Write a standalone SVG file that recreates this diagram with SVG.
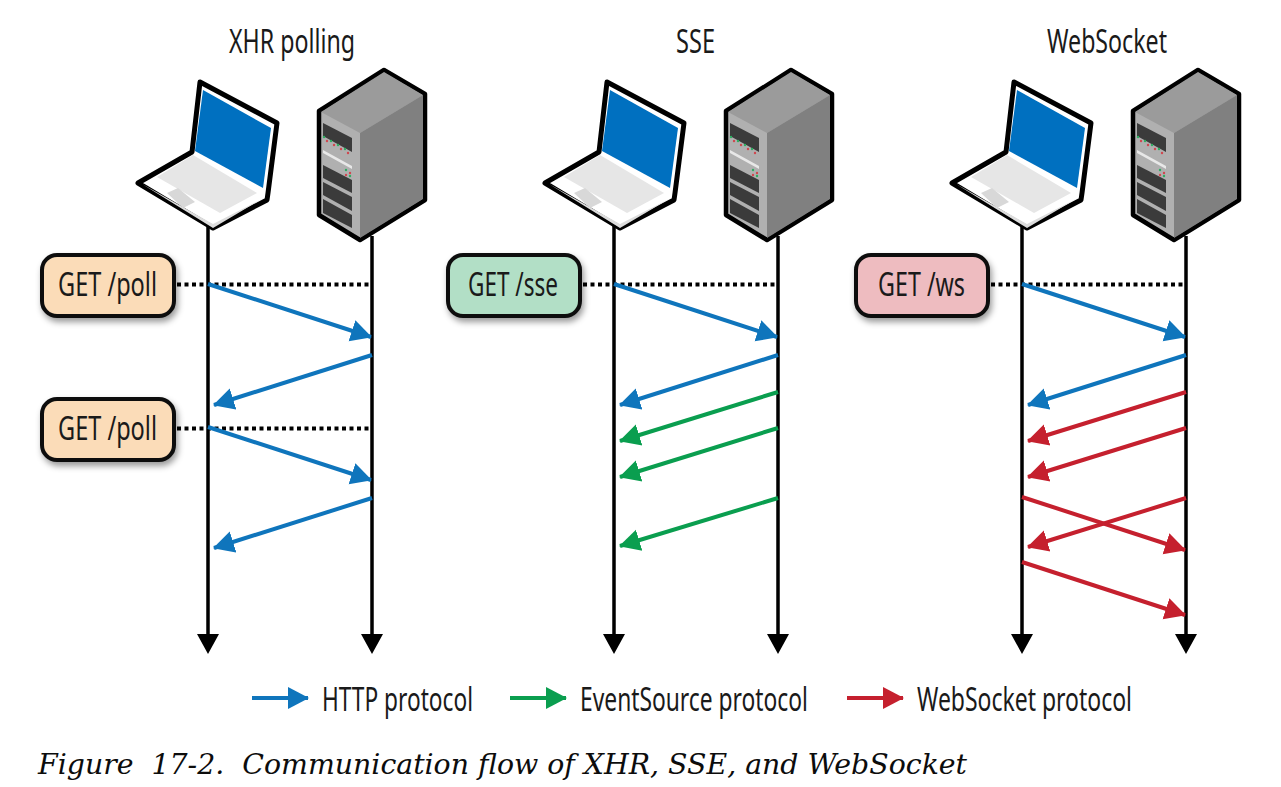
<svg xmlns="http://www.w3.org/2000/svg" width="1281" height="787" viewBox="0 0 1281 787">
<style>
.lbl{font-family:"Noto Sans","Liberation Sans",sans-serif;font-size:32px;fill:#1a1a1a}
.cap{font-family:"DejaVu Serif",serif;font-style:italic;font-size:28px;fill:#0c0c0c}
.box{stroke:#111;stroke-width:4;filter:url(#sh)}
.life{stroke:#000;stroke-width:3.5;fill:none}
.dot{stroke:#000;stroke-width:4;stroke-dasharray:4 3.500;fill:none}
.b{stroke:#0f75bc;stroke-width:4;fill:none}
.g{stroke:#0a9e4f;stroke-width:4;fill:none}
.r{stroke:#c5202e;stroke-width:4;fill:none}
.pnl{fill:#3a3a3a}
.icon{filter:url(#soft)}
</style>
<defs>
<filter id="soft" x="-5%" y="-5%" width="110%" height="110%"><feGaussianBlur stdDeviation="0.5"/></filter>
<filter id="sh" x="-20%" y="-20%" width="140%" height="150%"><feDropShadow dx="2" dy="4" stdDeviation="3" flood-color="#000" flood-opacity="0.4"/></filter>
<marker id="mb" markerUnits="userSpaceOnUse" markerWidth="22" markerHeight="24" refX="20" refY="12" orient="auto"><path d="M0 1L21 12L0 23Z" fill="#0f75bc"/></marker>
<marker id="mg" markerUnits="userSpaceOnUse" markerWidth="22" markerHeight="24" refX="20" refY="12" orient="auto"><path d="M0 1L21 12L0 23Z" fill="#0a9e4f"/></marker>
<marker id="mr" markerUnits="userSpaceOnUse" markerWidth="22" markerHeight="24" refX="20" refY="12" orient="auto"><path d="M0 1L21 12L0 23Z" fill="#c5202e"/></marker>
<g id="laptop">
<path d="M200 82L277 123L268 193L267 200L213 228L138 183L192 152Z" fill="#fff" stroke="#000" stroke-width="5" stroke-linejoin="round"/>
<path d="M203 90L271 128L263 188L195 151Z" fill="#0070c0"/>
<path d="M157 177L193 155L257 193L220 213Z" fill="#e6e6e6"/>
<path d="M167 193L178 188L195 202L183 208Z" fill="#d8d8d8"/>
<path d="M142 184L213 224L262 199L213 228Z" fill="#ddd"/>
</g>
<g id="server">
<path d="M384 70L425 94V200L360 240L319 215V111Z" fill="#b0b0b0" stroke="#000" stroke-width="4.5" stroke-linejoin="round"/>
<path d="M384 72L423 95L360 133L321 112Z" fill="#9b9b9b"/>
<path d="M423 95V199L360 238V133Z" fill="#808080"/>
<path class="pnl" d="M323 123L352 138V152L323 136Z"/>
<path d="M323 150L352 166V169L323 153Z" fill="#e8e8e8"/>
<path class="pnl" d="M323 165L352 180V193L323 178Z"/>
<path class="pnl" d="M323 182L352 197V211L323 195Z"/>
<path class="pnl" d="M323 199L352 215V228L323 213Z"/>
<g fill="#2fae62"><circle cx="324" cy="137" r="1.2"/><circle cx="331" cy="141" r="1.2"/><circle cx="338" cy="145" r="1.2"/><circle cx="345" cy="149" r="1.2"/><circle cx="346" cy="170" r="1.2"/><circle cx="350" cy="176" r="1.2"/></g>
<g fill="#d0474f"><circle cx="327" cy="141" r="1.2"/><circle cx="334" cy="145" r="1.2"/><circle cx="341" cy="149" r="1.2"/><circle cx="348" cy="153" r="1.2"/><circle cx="350" cy="173" r="1.2"/><circle cx="346" cy="175" r="1.2"/></g>
</g>
</defs>
<rect width="1281" height="787" fill="#fff"/>
<text class="lbl" x="229" y="53" textLength="126" lengthAdjust="spacingAndGlyphs">XHR polling</text>
<text class="lbl" x="676" y="53" textLength="39" lengthAdjust="spacingAndGlyphs">SSE</text>
<text class="lbl" x="1047" y="53" textLength="120" lengthAdjust="spacingAndGlyphs">WebSocket</text>
<g id="connectors">
<path class="life" d="M208 226V636M372 236V636M614 226V636M778 236V636M1022 226V636M1186 236V636"/>
<path d="M197 634H219L208 654ZM361 634H383L372 654ZM603 634H625L614 654ZM767 634H789L778 654ZM1011 634H1033L1022 654ZM1175 634H1197L1186 654Z" fill="#000"/>
<path class="dot" d="M177 284.500H370M177 428.500H370M583 284.500H776M991 284.500H1184"/>
<path class="b" marker-end="url(#mb)" d="M208 284L371 337"/>
<path class="b" marker-end="url(#mb)" d="M372 355L214 405"/>
<path class="b" marker-end="url(#mb)" d="M208 427L371 480"/>
<path class="b" marker-end="url(#mb)" d="M372 498L214 548"/>
<path class="b" marker-end="url(#mb)" d="M614 284L777 337"/>
<path class="b" marker-end="url(#mb)" d="M778 355L620 405"/>
<path class="b" marker-end="url(#mb)" d="M1022 284L1185 337"/>
<path class="b" marker-end="url(#mb)" d="M1186 355L1028 405"/>
<path class="g" marker-end="url(#mg)" d="M778 392L620 441"/>
<path class="g" marker-end="url(#mg)" d="M778 428L620 477"/>
<path class="g" marker-end="url(#mg)" d="M778 498L620 546"/>
<path class="r" marker-end="url(#mr)" d="M1186 392L1028 441"/>
<path class="r" marker-end="url(#mr)" d="M1186 428L1028 477"/>
<path class="r" marker-end="url(#mr)" d="M1186 498L1028 547"/>
<path class="r" marker-end="url(#mr)" d="M1022 497L1185 550"/>
<path class="r" marker-end="url(#mr)" d="M1022 562L1185 615"/>
</g>
<g id="laptop-xhr" class="icon"><use href="#laptop"/></g>
<g id="server-xhr" class="icon"><use href="#server"/></g>
<g id="laptop-sse" class="icon"><use href="#laptop" x="407"/></g>
<g id="server-sse" class="icon"><use href="#server" x="407"/></g>
<g id="laptop-ws" class="icon"><use href="#laptop" x="814"/></g>
<g id="server-ws" class="icon"><use href="#server" x="814"/></g>
<g id="get-poll-1"><rect class="box" x="42" y="255" width="132" height="61" rx="15" fill="#fbdcb8"/><text class="lbl" x="58" y="296" textLength="99" lengthAdjust="spacingAndGlyphs">GET /poll</text></g>
<g id="get-poll-2"><rect class="box" x="42" y="399" width="132" height="61" rx="15" fill="#fbdcb8"/><text class="lbl" x="58" y="440" textLength="99" lengthAdjust="spacingAndGlyphs">GET /poll</text></g>
<g id="get-sse"><rect class="box" x="448" y="255" width="132" height="61" rx="15" fill="#b2dfc6"/><text class="lbl" x="468" y="296" textLength="90" lengthAdjust="spacingAndGlyphs">GET /sse</text></g>
<g id="get-ws"><rect class="box" x="856" y="255" width="132" height="61" rx="15" fill="#eebcc0"/><text class="lbl" x="878" y="296" textLength="87" lengthAdjust="spacingAndGlyphs">GET /ws</text></g>
<g id="legend">
<path class="b" marker-end="url(#mb)" d="M252 698H308"/>
<text class="lbl" x="322" y="711" textLength="151" lengthAdjust="spacingAndGlyphs">HTTP protocol</text>
<path class="g" marker-end="url(#mg)" d="M510 698H566"/>
<text class="lbl" x="580" y="711" textLength="228" lengthAdjust="spacingAndGlyphs">EventSource protocol</text>
<path class="r" marker-end="url(#mr)" d="M847 698H903"/>
<text class="lbl" x="917" y="711" textLength="215" lengthAdjust="spacingAndGlyphs">WebSocket protocol</text>
</g>
<text class="cap" x="38" y="774" textLength="929" lengthAdjust="spacingAndGlyphs" xml:space="preserve">Figure  17-2.  Communication flow of XHR, SSE, and WebSocket</text>
</svg>
